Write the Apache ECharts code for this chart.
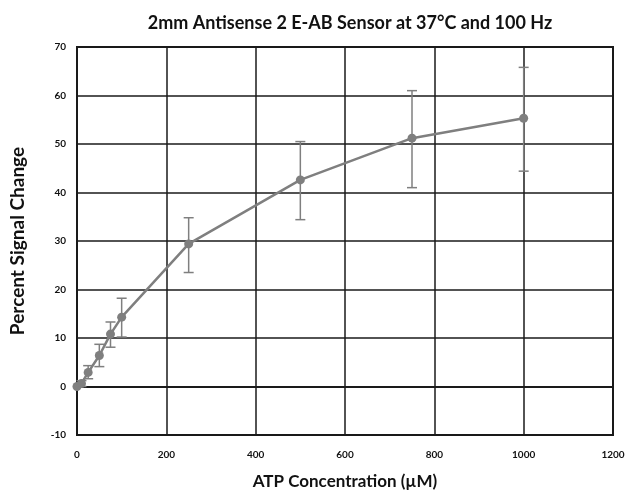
<!DOCTYPE html>
<html>
<head>
<meta charset="utf-8">
<script src="https://cdn.jsdelivr.net/npm/echarts@6/dist/echarts.min.js"></script>
<style>
html,body{margin:0;padding:0;background:#fff;}
#chart{width:626px;height:491px;}
</style>
</head>
<body>
<div id="chart"></div>
<script>
// ATP concentration (uM) and percent signal change, with error bar ends
var conc = [0, 10, 25, 50, 75, 100, 250, 500, 750, 1000];
var signal = [0, 0.6, 2.9, 6.4, 10.8, 14.3, 29.4, 42.6, 51.2, 55.3];
var errLow = [0, 0, 1.6, 4.1, 8.1, 10.2, 23.5, 34.4, 41.0, 44.4];
var errHigh = [0, 1.2, 4.3, 8.7, 13.3, 18.2, 34.8, 50.5, 61.0, 65.8];

var LINE_COLOR = '#7f7f7f';
var GRID_COLOR = '#1a1a1a';

var points = [];
var bars = [];
for (var i = 0; i < conc.length; i++) {
	points.push([conc[i], signal[i]]);
	if (errHigh[i] > errLow[i]) bars.push([conc[i], errLow[i], errHigh[i]]);
}

function renderErrorBar(params, api){
	var x = api.value(0);
	var lo = api.coord([x, api.value(1)]);
	var hi = api.coord([x, api.value(2)]);
	var half = 5;
	var style = {stroke: LINE_COLOR, lineWidth: 1.5, fill: null};
	return {
		type: 'group',
		children: [
			{type: 'line', shape: {x1: lo[0], y1: lo[1], x2: hi[0], y2: hi[1]}, style: style},
			{type: 'line', shape: {x1: hi[0]-half, y1: hi[1], x2: hi[0]+half, y2: hi[1]}, style: style},
			{type: 'line', shape: {x1: lo[0]-half, y1: lo[1], x2: lo[0]+half, y2: lo[1]}, style: style}
		]
	};
}

var myChart = echarts.init(document.getElementById('chart'));
myChart.setOption({
	animation: false,
	title: {
		text: '2mm Antisense 2 E-AB Sensor at 37°C and 100 Hz',
		left: 345,
		textAlign: 'center',
		top: 9,
		textStyle: {fontFamily: 'Lato', fontSize: 18, fontWeight: 'bold', color: '#111'}
	},
	grid: {
		left: 77, right: 13, top: 47, bottom: 56,
		outerBoundsMode: 'none',
		containLabel: false,
		show: true, borderColor: GRID_COLOR, borderWidth: 2
	},
	xAxis: {
		type: 'value',
		min: 0, max: 1200, interval: 200,
		name: 'ATP Concentration (\u00b5M)',
		nameLocation: 'middle',
		nameGap: 38,
		nameTextStyle: {fontFamily: 'Lato', fontSize: 17, fontWeight: 'bold', color: '#111'},
		axisTick: {show: false},
		axisLine: {show: true, lineStyle: {color: GRID_COLOR, width: 2}},
		axisLabel: {margin: 15, fontFamily: 'Lato', fontSize: 10, fontWeight: 'bold', color: '#111',
			formatter: function(v){ return String(v); }},
		splitLine: {show: true, lineStyle: {color: GRID_COLOR, width: 1.5}}
	},
	yAxis: {
		type: 'value',
		min: -10, max: 70, interval: 10,
		name: 'Percent Signal Change',
		nameLocation: 'middle',
		nameGap: 50,
		nameTextStyle: {fontFamily: 'Lato', fontSize: 19, fontWeight: 'bold', color: '#111'},
		axisTick: {show: false},
		axisLine: {show: true, lineStyle: {color: GRID_COLOR, width: 2}},
		axisLabel: {margin: 11, fontFamily: 'Lato', fontSize: 10, fontWeight: 'bold', color: '#111'},
		splitLine: {show: true, lineStyle: {color: GRID_COLOR, width: 1.5}}
	},
	series: [
		{
			type: 'custom',
			renderItem: renderErrorBar,
			data: bars,
			z: 3
		},
		{
			type: 'line',
			data: points,
			symbol: 'circle',
			symbolSize: 9,
			lineStyle: {color: LINE_COLOR, width: 2.5},
			itemStyle: {color: LINE_COLOR},
			z: 4
		}
	]
});
</script>
</body>
</html>
